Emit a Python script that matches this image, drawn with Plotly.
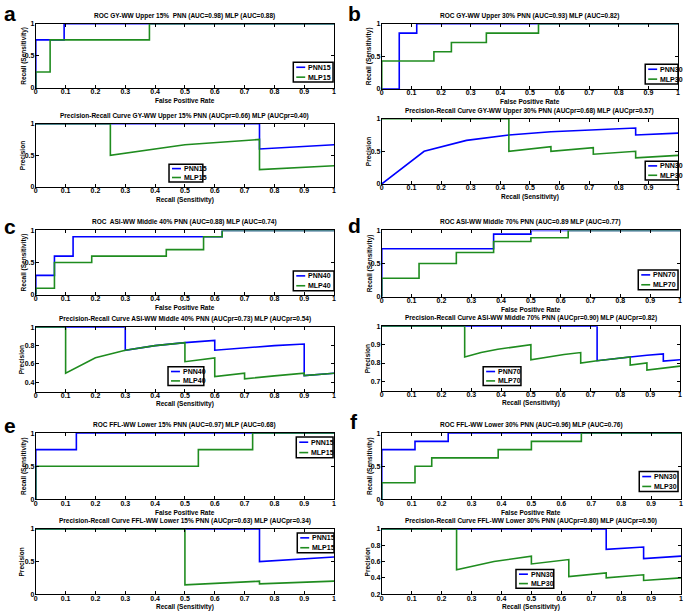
import plotly.graph_objects as go

W, H = 685, 615
BLUE = "#0000ff"
GREEN = "#1f8c1f"
FONT = "Liberation Sans"

# ---------------- data ----------------
# panel a
A_ROC_PNN_X = [0, 0, 0.095, 0.095, 1]
A_ROC_PNN_Y = [0, 0.75, 0.75, 1, 1]
A_ROC_MLP_X = [0, 0, 0.048, 0.048, 0.381, 0.381, 1]
A_ROC_MLP_Y = [0, 0.25, 0.25, 0.75, 0.75, 1, 1]
A_PR_PNN_X = [0, 0.75, 0.75, 1]
A_PR_PNN_Y = [1, 1, 0.6, 0.667]
A_PR_MLP_X = [0, 0.25, 0.25, 0.5, 0.75, 0.75, 1]
A_PR_MLP_Y = [1, 1, 0.5, 0.667, 0.75, 0.273, 0.333]
# panel b
B_ROC_PNN_X = [0, 0.059, 0.059, 0.118, 0.118, 1]
B_ROC_PNN_Y = [0, 0, 0.857, 0.857, 1, 1]
B_ROC_MLP_X = [0, 0, 0.176, 0.176, 0.235, 0.235, 0.353, 0.353, 0.529, 0.529, 1]
B_ROC_MLP_Y = [0, 0.429, 0.429, 0.571, 0.571, 0.714, 0.714, 0.857, 0.857, 1, 1]
B_PR_PNN_X = [0, 0.143, 0.286, 0.429, 0.571, 0.714, 0.857, 0.857, 1]
B_PR_PNN_Y = [0, 0.5, 0.667, 0.75, 0.8, 0.833, 0.857, 0.75, 0.778]
B_PR_MLP_X = [0, 0.429, 0.429, 0.571, 0.571, 0.714, 0.714, 0.857, 0.857, 1]
B_PR_MLP_Y = [1, 1, 0.5, 0.571, 0.5, 0.556, 0.455, 0.5, 0.4, 0.438]
# panel c
C_ROC_PNN_X = [0, 0, 0.0625, 0.0625, 0.125, 0.125, 0.625, 0.625, 1]
C_ROC_PNN_Y = [0, 0.3, 0.3, 0.6, 0.6, 0.9, 0.9, 1, 1]
C_ROC_MLP_X = [0, 0, 0.0625, 0.0625, 0.1875, 0.1875, 0.4375, 0.4375, 0.5625, 0.5625, 0.625, 0.625, 1]
C_ROC_MLP_Y = [0, 0.1, 0.1, 0.5, 0.5, 0.6, 0.6, 0.7, 0.7, 0.9, 0.9, 1, 1]
C_PR_PNN_X = [0, 0.3, 0.3, 0.4, 0.5, 0.6, 0.6, 0.7, 0.8, 0.9, 0.9, 1]
C_PR_PNN_Y = [1, 1, 0.75, 0.8, 0.833, 0.857, 0.75, 0.778, 0.8, 0.818, 0.474, 0.5]
C_PR_MLP_X = [0, 0.1, 0.1, 0.2, 0.3, 0.4, 0.5, 0.5, 0.6, 0.6, 0.7, 0.7, 0.8, 0.9, 0.9, 1]
C_PR_MLP_Y = [1, 1, 0.5, 0.667, 0.75, 0.8, 0.833, 0.625, 0.667, 0.462, 0.5, 0.438, 0.471, 0.5, 0.474, 0.5]
# panel d
D_ROC_PNN_X = [0, 0, 0.375, 0.375, 0.5, 0.5, 1]
D_ROC_PNN_Y = [0, 0.722, 0.722, 0.944, 0.944, 1, 1]
D_ROC_MLP_X = [0, 0, 0.125, 0.125, 0.25, 0.25, 0.375, 0.375, 0.5, 0.5, 0.625, 0.625, 1]
D_ROC_MLP_Y = [0, 0.278, 0.278, 0.5, 0.5, 0.667, 0.667, 0.833, 0.833, 0.889, 0.889, 1, 1]
D_PR_PNN_X = [0, 0.722, 0.722, 0.778, 0.833, 0.889, 0.944, 0.944, 1]
D_PR_PNN_Y = [1, 1, 0.8125, 0.824, 0.833, 0.842, 0.85, 0.81, 0.818]
D_PR_MLP_X = [0, 0.278, 0.278, 0.333, 0.389, 0.444, 0.5, 0.5, 0.556, 0.611, 0.667, 0.667,
              0.722, 0.778, 0.833, 0.833, 0.889, 0.889, 0.944, 1]
D_PR_MLP_Y = [1, 1, 0.833, 0.857, 0.875, 0.889, 0.9, 0.818, 0.833, 0.846, 0.857, 0.8,
              0.8125, 0.824, 0.833, 0.789, 0.8, 0.762, 0.773, 0.783]
# panel e
E_ROC_PNN_X = [0, 0, 0.136, 0.136, 1]
E_ROC_PNN_Y = [0, 0.75, 0.75, 1, 1]
E_ROC_MLP_X = [0, 0, 0.545, 0.545, 0.727, 0.727, 1]
E_ROC_MLP_Y = [0, 0.5, 0.5, 0.75, 0.75, 1, 1]
E_PR_PNN_X = [0, 0.75, 0.75, 1]
E_PR_PNN_Y = [1, 1, 0.5, 0.571]
E_PR_MLP_X = [0, 0.5, 0.5, 0.75, 0.75, 1]
E_PR_MLP_Y = [1, 1, 0.143, 0.2, 0.158, 0.2]
# panel f
F_ROC_PNN_X = [0, 0, 0.111, 0.111, 0.222, 0.222, 1]
F_ROC_PNN_Y = [0, 0.75, 0.75, 0.875, 0.875, 1, 1]
F_ROC_MLP_X = [0, 0, 0.111, 0.111, 0.167, 0.167, 0.389, 0.389, 0.5, 0.5, 0.667, 0.667, 1]
F_ROC_MLP_Y = [0, 0.25, 0.25, 0.5, 0.5, 0.625, 0.625, 0.75, 0.75, 0.875, 0.875, 1, 1]
F_PR_PNN_X = [0, 0.75, 0.75, 0.875, 0.875, 1]
F_PR_PNN_Y = [1, 1, 0.75, 0.778, 0.636, 0.667]
F_PR_MLP_X = [0, 0.25, 0.25, 0.375, 0.5, 0.5, 0.625, 0.625, 0.75, 0.75, 0.875, 0.875, 1]
F_PR_MLP_Y = [1, 1, 0.5, 0.6, 0.667, 0.571, 0.625, 0.417, 0.462, 0.4, 0.438, 0.368, 0.4]

X_TICKS = [0, 0.1, 0.2, 0.3, 0.4, 0.5, 0.6, 0.7, 0.8, 0.9, 1]
X_TICK_TEXT = ["0", "0.1", "0.2", "0.3", "0.4", "0.5", "0.6", "0.7", "0.8", "0.9", "1"]

TITLES = [
    "ROC GY-WW Upper 15%  PNN (AUC=0.98) MLP (AUC=0.88)",
    "Precision-Recall Curve GY-WW Upper 15% PNN (AUCpr=0.66) MLP (AUCpr=0.40)",
    "ROC GY-WW Upper 30% PNN (AUC=0.93) MLP (AUC=0.82)",
    "Precision-Recall Curve GY-WW Upper 30% PNN (AUCpr=0.68) MLP (AUCpr=0.57)",
    "ROC  ASI-WW Middle 40% PNN (AUC=0.88) MLP (AUC=0.74)",
    "Precision-Recall Curve ASI-WW Middle 40% PNN (AUCpr=0.73) MLP (AUCpr=0.54)",
    "ROC ASI-WW Middle 70% PNN (AUC=0.89 MLP (AUC=0.77)",
    "Precision-Recall Curve ASI-WW Middle 70% PNN (AUCpr=0.90) MLP (AUCpr=0.82)",
    "ROC FFL-WW Lower 15% PNN (AUC=0.97) MLP (AUC=0.68)",
    "Precision-Recall Curve FFL-WW Lower 15% PNN (AUCpr=0.63) MLP (AUCpr=0.34)",
    "ROC FFL-WW Lower 30% PNN (AUC=0.96) MLP (AUC=0.76)",
    "Precision-Recall Curve FFL-WW Lower 30% PNN (AUCpr=0.80) MLP (AUCpr=0.50)",
]
SUFFIX = ["15", "15", "30", "30", "40", "40", "70", "70", "15", "15", "30", "30"]
PANEL_LETTERS = ["a", "b", "c", "d", "e", "f"]

Y_RANGES = [[0, 1], [0, 1], [0, 1], [0, 1], [0, 1], [0.3, 1], [0, 1], [0.65, 1],
            [0, 1], [0, 1], [0, 1], [0.2, 1]]
Y_TICKS = [[0, 0.5, 1], [0, 0.5, 1], [0, 0.5, 1], [0, 0.5, 1], [0, 0.5, 1],
           [0.4, 0.6, 0.8, 1], [0, 0.5, 1], [0.7, 0.8, 0.9, 1],
           [0, 0.5, 1], [0, 0.5, 1], [0, 0.5, 1], [0.2, 0.4, 0.6, 0.8, 1]]

SERIES = [
    (A_ROC_PNN_X, A_ROC_PNN_Y, A_ROC_MLP_X, A_ROC_MLP_Y),
    (A_PR_PNN_X, A_PR_PNN_Y, A_PR_MLP_X, A_PR_MLP_Y),
    (B_ROC_PNN_X, B_ROC_PNN_Y, B_ROC_MLP_X, B_ROC_MLP_Y),
    (B_PR_PNN_X, B_PR_PNN_Y, B_PR_MLP_X, B_PR_MLP_Y),
    (C_ROC_PNN_X, C_ROC_PNN_Y, C_ROC_MLP_X, C_ROC_MLP_Y),
    (C_PR_PNN_X, C_PR_PNN_Y, C_PR_MLP_X, C_PR_MLP_Y),
    (D_ROC_PNN_X, D_ROC_PNN_Y, D_ROC_MLP_X, D_ROC_MLP_Y),
    (D_PR_PNN_X, D_PR_PNN_Y, D_PR_MLP_X, D_PR_MLP_Y),
    (E_ROC_PNN_X, E_ROC_PNN_Y, E_ROC_MLP_X, E_ROC_MLP_Y),
    (E_PR_PNN_X, E_PR_PNN_Y, E_PR_MLP_X, E_PR_MLP_Y),
    (F_ROC_PNN_X, F_ROC_PNN_Y, F_ROC_MLP_X, F_ROC_MLP_Y),
    (F_PR_PNN_X, F_PR_PNN_Y, F_PR_MLP_X, F_PR_MLP_Y),
]

# ---------------- layout geometry (pixels: left, right, top, bottom) ----------------
BOXES = [
    (34, 334, 20, 85), (34, 334, 121, 185),
    (382, 680, 20, 86), (382, 680, 116, 182),
    (34, 334, 229, 294), (34, 334, 327, 392),
    (382, 682, 229, 296), (382, 682, 326, 391),
    (34, 334, 434, 501), (34, 334, 531, 597),
    (382, 683, 434, 501), (382, 683, 531, 597),
]
LEGENDS = [
    (293, 333, 59, 79), (168, 202, 162, 180),
    (647, 680, 61, 81), (647, 680, 159, 178),
    (293, 334, 270, 290), (167, 203, 367, 386),
    (640, 680, 269, 289), (484, 522, 367, 386),
    (296, 333, 438, 459), (297, 334, 535, 555),
    (641, 680, 473, 493), (517, 555, 572, 591),
]
LETTER_POS = [(8, 10), (355, 10), (8, 225), (355, 224), (8, 426), (354, 422)]


def px(x):
    return x / W


def py(y):
    return 1 - y / H


fig = go.Figure()
layout = dict(
    width=W, height=H, margin=dict(l=0, r=0, t=0, b=0),
    paper_bgcolor="white", plot_bgcolor="white", showlegend=False,
    font=dict(family=FONT, size=7, color="black"),
)
annotations = []
shapes = []
bold7 = dict(family=FONT, size=7, color="black", weight="bold")
boldT = dict(family=FONT, size=6.5, color="black", weight="bold")

for i in range(12):
    n = "" if i == 0 else str(i + 1)
    l, r, t, b = BOXES[i]
    is_roc = (i % 2 == 0)
    px_, py_, mx_, my_ = SERIES[i]
    fig.add_trace(go.Scatter(x=px_, y=py_, mode="lines", line=dict(color=BLUE, width=1.6),
                             xaxis="x" + n, yaxis="y" + n, name="PNN" + SUFFIX[i]))
    fig.add_trace(go.Scatter(x=mx_, y=my_, mode="lines", line=dict(color=GREEN, width=1.6),
                             xaxis="x" + n, yaxis="y" + n, name="MLP" + SUFFIX[i]))
    common = dict(showline=True, linecolor="black", linewidth=1, mirror="ticks",
                  ticks="inside", ticklen=3, tickcolor="black", tickwidth=1,
                  showgrid=False, zeroline=False, tickfont=bold7, fixedrange=True)
    layout["xaxis" + n] = dict(common, domain=[px(l), px(r)], range=[0, 1],
                               tickvals=X_TICKS, ticktext=X_TICK_TEXT, anchor="y" + n,
                               ticklabelstandoff=-3)
    yt = Y_TICKS[i]
    layout["yaxis" + n] = dict(common, domain=[py(b), py(t)], range=Y_RANGES[i],
                               tickvals=yt, ticktext=[("%g" % v) for v in yt], anchor="x" + n,
                               ticklabelstandoff=-1)
    cx = (l + r) / 2
    annotations.append(dict(text=TITLES[i], x=px(cx), y=py(t - 8), xref="paper", yref="paper",
                            showarrow=False, font=boldT, xanchor="center", yanchor="middle"))
    annotations.append(dict(text="False Positive Rate" if is_roc else "Recall (Sensitivity)",
                            x=px(cx), y=py(b + 13), xref="paper", yref="paper",
                            showarrow=False, font=boldT, xanchor="center", yanchor="middle"))
    annotations.append(dict(text="Recall (Sensitivity)" if is_roc else "Precision",
                            x=px(l - (12 if is_roc else 14)), y=py((t + b) / 2),
                            xref="paper", yref="paper",
                            showarrow=False, font=boldT, textangle=-90,
                            xanchor="center", yanchor="middle"))
    lx0, lx1, ly0, ly1 = LEGENDS[i]
    shapes.append(dict(type="rect", xref="paper", yref="paper", x0=px(lx0), x1=px(lx1),
                       y0=py(ly1), y1=py(ly0), line=dict(color="black", width=1.5),
                       fillcolor="white", layer="above"))
    hh = ly1 - ly0
    for k, (col, nm) in enumerate([(BLUE, "PNN" + SUFFIX[i]), (GREEN, "MLP" + SUFFIX[i])]):
        yy = ly0 + hh * (k + 0.5) / 2
        shapes.append(dict(type="line", xref="paper", yref="paper", x0=px(lx0 + 3),
                           x1=px(lx0 + 12), y0=py(yy), y1=py(yy),
                           line=dict(color=col, width=1.6), layer="above"))
        annotations.append(dict(text=nm, x=px(lx0 + 13), y=py(yy), xref="paper", yref="paper",
                                showarrow=False, font=bold7, xanchor="left", yanchor="middle"))

for j, letter in enumerate(PANEL_LETTERS):
    x, y = LETTER_POS[j]
    annotations.append(dict(text=letter, x=px(x), y=py(y), xref="paper", yref="paper",
                            showarrow=False, xanchor="center", yanchor="middle",
                            font=dict(family=FONT, size=21, color="black", weight="bold")))

layout["annotations"] = annotations
layout["shapes"] = shapes
fig.update_layout(**layout)
fig.write_html("out.html", config={"displayModeBar": False},
               post_script="document.body.style.margin='0';document.body.style.overflow='hidden';")
